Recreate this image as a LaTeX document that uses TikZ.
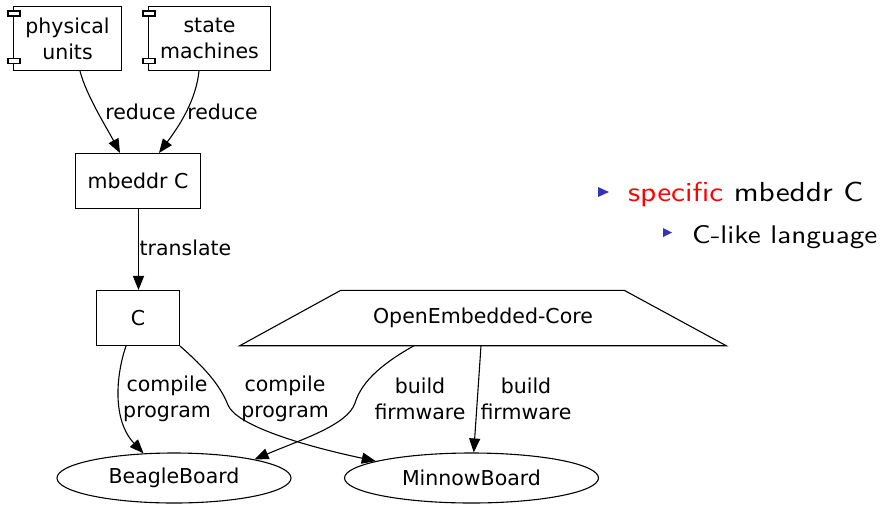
\documentclass[tikz,border=0pt]{standalone}
\usepackage{fontspec}
\newfontfamily\dejavu{DejaVu Sans}
\newfontfamily\lmsw[FakeStretch=1.14]{lmsans10-regular.otf}
\usetikzlibrary{arrows.meta,shapes.geometric}
\definecolor{beamerblue}{RGB}{51,51,179}
\begin{document}
\begin{tikzpicture}[x=1pt,y=-1pt,
  gfont/.style={font=\dejavu\fontsize{20.5}{26}\selectfont},
  box/.style={draw, line width=1.05pt, inner sep=0pt, gfont, align=center},
  oval/.style={draw, ellipse, line width=1.1pt, inner sep=0pt, gfont},
  arr/.style={line width=1.1pt, -{Triangle[length=14pt,width=11pt]}},
  lbl/.style={gfont, align=center, inner sep=0pt},
  tab/.style={draw, line width=1.05pt, fill=white},
  bullet/.style={fill=beamerblue},
  itemtext/.style={anchor=base west, inner sep=0pt}
]
\fill[white] (0,0) rectangle (880,509);
\useasboundingbox (0,0) rectangle (880,509);

% component nodes
\node[box, minimum width=108pt, minimum height=64pt] (pu) at (67.5,38.5) {physical\\units};
\node[box, minimum width=122pt, minimum height=64pt] (sm) at (209.5,38.5) {state\\machines};
\draw[tab] ([shift={(-5pt,-5pt)}]pu.north west) rectangle ++(12,5);
\draw[tab] ([shift={(-5pt,13pt)}]pu.south west) rectangle ++(12,5);
\draw[tab] ([shift={(-5pt,-5pt)}]sm.north west) rectangle ++(12,5);
\draw[tab] ([shift={(-5pt,13pt)}]sm.south west) rectangle ++(12,5);

\node[box, minimum width=125pt, minimum height=55pt] (mbc) at (138,181) {mbeddr C};
\node[box, minimum width=83pt, minimum height=55pt] (c) at (138,318) {C};

\node[lbl, minimum width=486pt, minimum height=55pt] (oe) at (483,318) {OpenEmbedded-Core};
\draw[line width=1.1pt] (oe.south west) -- (oe.south east) -- ([xshift=-102pt]oe.north east) -- ([xshift=101pt]oe.north west) -- cycle;

\node[oval, minimum width=234pt, minimum height=50pt] (bb) at (174,478) {BeagleBoard};
\node[oval, minimum width=254pt, minimum height=50pt] (mb) at (471.5,478) {MinnowBoard};

% edges
\draw[arr] ([xshift=12.5pt]pu.south) .. controls (86,95) and (108,130) .. ([xshift=-18pt]mbc.north);
\draw[arr] ([xshift=-10.5pt]sm.south) .. controls (196,100) and (180,125) .. ([xshift=21pt]mbc.north);
\draw[arr] ([xshift=0.5pt]mbc.south) -- ([xshift=0.5pt]c.north);
\draw[arr] ([xshift=-12pt]c.south) .. controls (116,375) and (112,420) .. (bb.141);
\draw[arr] (c.south east) .. controls (205,368) and (220,385) .. (228,405) .. controls (236,425) and (300,445) .. (mb.170);
\draw[arr] ([xshift=-69pt]oe.south) .. controls (385,362) and (362,380) .. (355,403) .. controls (348,425) and (300,440) .. (bb.13);
\draw[arr] ([xshift=-2pt]oe.south) -- (mb.85);

% edge labels
\node[lbl, anchor=base] (l1) at (140.5,119) {reduce};
\node[lbl, anchor=base] (l2) at (222.5,119) {reduce};
\node[lbl, anchor=base] (l3) at (185.5,255) {translate};
\node[lbl] (l4) at (167,399) {compile\\program};
\node[lbl] (l5) at (285,399) {compile\\program};
\node[lbl] (l6) at (420,399) {build\\firmware};
\node[lbl] (l7) at (526,399) {build\\firmware};

% bullet list
\fill[bullet] (598,187) -- (609,192) -- (598,197) -- cycle;
\node[itemtext, font=\lmsw\fontsize{27.5}{33}\selectfont] (it1) at (628,201) {\textcolor{red}{specific} mbeddr C};
\fill[bullet] (663,228) -- (672,232.5) -- (663,237) -- cycle;
\node[itemtext, font=\lmsw\fontsize{25.5}{31}\selectfont] (it2) at (692,243) {C-like language};
\end{tikzpicture}
\end{document}
